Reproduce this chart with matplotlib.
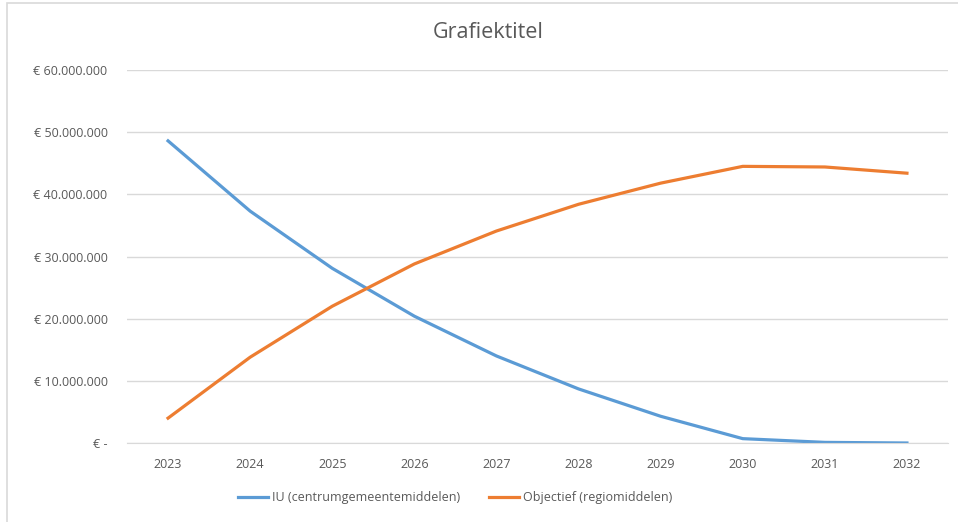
import matplotlib as mpl
mpl.use('Agg')
import matplotlib.pyplot as plt
from matplotlib.patches import Rectangle

# data
years = [2023, 2024, 2025, 2026, 2027, 2028, 2029, 2030, 2031, 2032]
iu_centrum = [48.6e6, 37.3e6, 28.1e6, 20.4e6, 14.0e6, 8.7e6, 4.3e6, 0.7e6, 0.1e6, 0.0]
objectief_regio = [4.0e6, 13.8e6, 22.0e6, 28.8e6, 34.1e6, 38.4e6, 41.8e6, 44.5e6, 44.4e6, 43.4e6]
series_names = ['IU (centrumgemeentemiddelen)', 'Objectief (regiomiddelen)']
yticks = [0, 10e6, 20e6, 30e6, 40e6, 50e6, 60e6]

plt.rcParams['font.family'] = ['Open Sans', 'DejaVu Sans']
txt = '#595959'

fig = plt.figure(figsize=(9.58, 5.22), dpi=100)
# chart frame like in the screenshot
fig.patches.append(Rectangle((7 / 958, -0.01), 1.0, 1 - 3 / 522 + 0.01,
                             transform=fig.transFigure, fill=False,
                             edgecolor='#d9d9d9', linewidth=1.2))

ax = fig.add_axes([127 / 958, 1 - 443 / 522, (948 - 127) / 958, (443 - 70) / 522])
ax.plot(years, iu_centrum, color='#5B9BD5', lw=2.3, label=series_names[0])
ax.plot(years, objectief_regio, color='#ED7D31', lw=2.3, label=series_names[1])

ax.set_xlim(2022.5, 2032.5)
ax.set_ylim(0, 60e6)
ax.set_xticks(years)
ax.set_xticklabels([str(y) for y in years])
ax.set_yticks(yticks)
ylabels = ['€ -'] + ['€ {:,}'.format(int(v)).replace(',', '.') for v in yticks[1:]]
ax.set_yticklabels(ylabels)
ax.tick_params(length=0, labelsize=9, colors=txt)
ax.tick_params(axis='y', pad=14)
ax.tick_params(axis='x', pad=11)
ax.grid(axis='y', color='#d9d9d9', lw=1)
ax.set_axisbelow(True)
for s in ['top', 'right', 'left']:
    ax.spines[s].set_visible(False)
ax.spines['bottom'].set_color('#d9d9d9')

fig.text(488 / 958, 1 - 33 / 522, 'Grafiektitel', ha='center', va='center',
         fontsize=15.5, color=txt)
fig.legend(loc='center', bbox_to_anchor=(455 / 958, 1 - 498 / 522), ncol=2,
           frameon=False, fontsize=9, labelcolor=txt, handlelength=2.4,
           handletextpad=0.3, columnspacing=2.3)

plt.savefig('out.png', dpi=100)
